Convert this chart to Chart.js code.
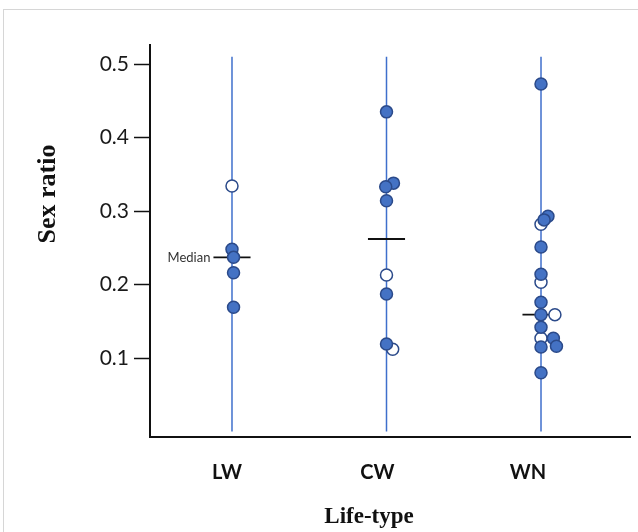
<!DOCTYPE html>
<html>
<head>
<meta charset="utf-8">
<script src="https://cdn.jsdelivr.net/npm/chart.js@4/dist/chart.umd.min.js"></script>
<style>
  html, body { margin: 0; padding: 0; background: #fff; }
  #wrap { position: relative; width: 638px; height: 532px; }
  #frame { position: absolute; left: 3px; top: 9px; right: 0; bottom: 0;
           border-top: 1px solid #d6d6d6; border-left: 1px solid #d6d6d6; }
  canvas { position: absolute; left: 0; top: 0; }
</style>
</head>
<body>
<div id="wrap">
  <div id="frame"></div>
  <canvas id="chart" width="638" height="532"></canvas>
</div>
<script>
// groups on the x axis
const categories = ['LW', 'CW', 'WN'];

// filled circles: sex ratio per group, and small sideways shift (x units)
const filledY = [
  [0.248, 0.237, 0.216, 0.169],
  [0.435, 0.338, 0.333, 0.314, 0.187, 0.119],
  [0.473, 0.293, 0.288, 0.251, 0.214, 0.176, 0.159, 0.142, 0.127, 0.116, 0.115, 0.080]
];
const filledShift = [
  [0, 0.01, 0.01, 0.01],
  [0, 0.045, -0.005, 0, 0, 0],
  [0, 0.045, 0.02, 0, 0, 0, 0, 0, 0.08, 0.1, 0, 0]
];

// open circles
const openY = [
  [0.334],
  [0.213, 0.112],
  [0.282, 0.203, 0.159, 0.127]
];
const openShift = [
  [0],
  [0, 0.04],
  [0, 0, 0.09, 0]
];

const medians = [0.237, 0.262, 0.159];
const yTicks = [0.1, 0.2, 0.3, 0.4, 0.5];
const lineTop = 0.51;

const blue = '#3f6fcc';
const fill = '#4472c4';
const navy = '#2b4a8a';
const medianHalf = 0.12;

const toPoints = (ys, shifts, i) => ys.map((y, k) => ({ x: i + 1 + shifts[k], y: y }));

const datasets = [];
datasets.push({
  type: 'scatter',
  data: filledY.flatMap((ys, i) => toPoints(ys, filledShift[i], i)),
  pointRadius: 6,
  pointBackgroundColor: fill,
  pointBorderColor: navy,
  pointBorderWidth: 1.5,
  order: 0
});
datasets.push({
  type: 'scatter',
  data: openY.flatMap((ys, i) => toPoints(ys, openShift[i], i)),
  pointRadius: 6,
  pointBackgroundColor: '#fff',
  pointBorderColor: navy,
  pointBorderWidth: 1.5,
  order: 0
});
categories.forEach((c, i) => {
  datasets.push({
    type: 'line',
    data: [{ x: i + 1 - medianHalf, y: medians[i] }, { x: i + 1 + medianHalf, y: medians[i] }],
    borderColor: '#111',
    borderWidth: 1.8,
    pointRadius: 0,
    order: 1
  });
  datasets.push({
    type: 'line',
    data: [{ x: i + 1, y: 0 }, { x: i + 1, y: lineTop }],
    borderColor: blue,
    borderWidth: 1.5,
    pointRadius: 0,
    order: 2
  });
});

const textPlugin = {
  id: 'texts',
  afterDraw(chart) {
    const ctx = chart.ctx;
    const x = chart.scales.x, y = chart.scales.y;
    ctx.save();
    ctx.fillStyle = '#111';
    ctx.textAlign = 'center';
    ctx.textBaseline = 'middle';
    ctx.font = 'bold 26px "Liberation Serif"';
    ctx.save();
    ctx.translate(48, 194);
    ctx.rotate(-Math.PI / 2);
    ctx.fillText('Sex ratio', 0, 0);
    ctx.restore();
    ctx.font = 'bold 23px "Liberation Serif"';
    ctx.fillText('Life-type', 369, 517);
    ctx.font = '13px Lato';
    ctx.fillStyle = '#333';
    ctx.textAlign = 'right';
    ctx.fillText('Median', x.getPixelForValue(1 - medianHalf) - 3, y.getPixelForValue(medians[0]));
    ctx.restore();
  }
};

new Chart(document.getElementById('chart'), {
  type: 'scatter',
  data: { datasets: datasets },
  plugins: [textPlugin],
  options: {
    responsive: false,
    animation: false,
    layout: { padding: { left: 20, top: 45, right: 8, bottom: 0 } },
    plugins: { legend: { display: false }, tooltip: { enabled: false } },
    scales: {
      x: { type: 'linear', display: false, min: 0.4693, max: 3.576 },
      x2: {
        type: 'linear', position: 'bottom', min: 0.4884, max: 3.678,
        afterBuildTicks: s => { s.ticks = categories.map((c, i) => ({ value: i + 1 })); },
        afterFit: s => { s.height = 95; },
        grid: { drawOnChartArea: false, drawTicks: false },
        border: { color: '#111', width: 2 },
        ticks: {
          padding: 24,
          color: '#111',
          font: { family: 'Lato', size: 20, weight: 'bold' },
          callback: v => categories[v - 1]
        }
      },
      y: {
        min: -0.0075, max: 0.526,
        afterBuildTicks: s => { s.ticks = yTicks.map(v => ({ value: v })); },
        afterFit: s => { s.width = 130; },
        grid: { drawOnChartArea: false, tickLength: 16, tickColor: '#111', tickWidth: 1.5 },
        border: { color: '#111', width: 2 },
        ticks: {
          padding: 5,
          color: '#1a1a1a',
          font: { family: 'Lato', size: 21 },
          callback: v => v.toFixed(1)
        }
      }
    }
  }
});
</script>
</body>
</html>
